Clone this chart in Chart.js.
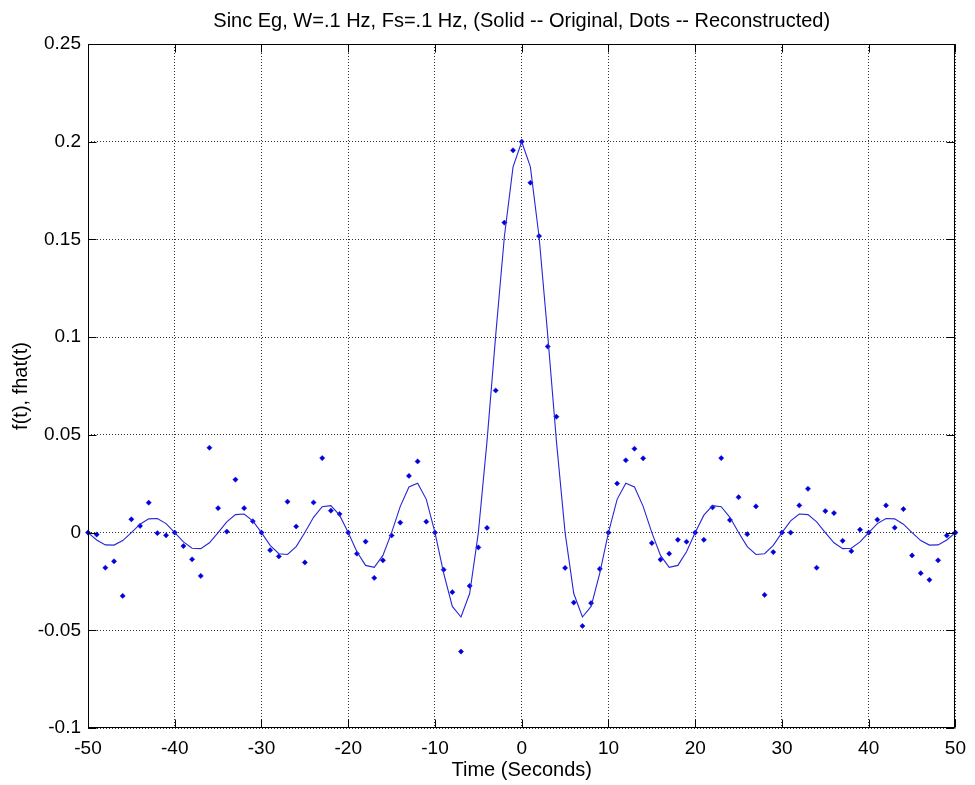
<!DOCTYPE html>
<html>
<head>
<meta charset="utf-8">
<script src="https://cdn.jsdelivr.net/npm/chart.js@4.4.1/dist/chart.umd.min.js"></script>
<style>
  html, body { margin: 0; padding: 0; background: #fff; }
</style>
</head>
<body>
<canvas id="chart" width="975" height="785"></canvas>
<script>
const timeSeconds = [
  -50, -49, -48, -47, -46, -45, -44, -43, -42, -41,
  -40, -39, -38, -37, -36, -35, -34, -33, -32, -31,
  -30, -29, -28, -27, -26, -25, -24, -23, -22, -21,
  -20, -19, -18, -17, -16, -15, -14, -13, -12, -11,
  -10, -9, -8, -7, -6, -5, -4, -3, -2, -1,
  0, 1, 2, 3, 4, 5, 6, 7, 8, 9,
  10, 11, 12, 13, 14, 15, 16, 17, 18, 19,
  20, 21, 22, 23, 24, 25, 26, 27, 28, 29,
  30, 31, 32, 33, 34, 35, 36, 37, 38, 39,
  40, 41, 42, 43, 44, 45, 46, 47, 48, 49, 50
];

// solid line -- original
const originalValues = [
  0, -0.0038, -0.0063, -0.0064, -0.0041, 0, 0.0043, 0.0070, 0.0072, 0.0046,
  0, -0.0048, -0.0080, -0.0082, -0.0052, 0, 0.0055, 0.0092, 0.0095, 0.0060,
  0, -0.0065, -0.0108, -0.0112, -0.0072, 0, 0.0078, 0.0132, 0.0138, 0.0089,
  0, -0.0098, -0.0168, -0.0178, -0.0117, 0, 0.0134, 0.0233, 0.0252, 0.0170,
  0, -0.0208, -0.0378, -0.0432, -0.0312, 0, 0.0468, 0.1009, 0.1514, 0.1871,
  0.2,
  0.1871, 0.1514, 0.1009, 0.0468, 0, -0.0312, -0.0432, -0.0378, -0.0208, 0,
  0.0170, 0.0252, 0.0233, 0.0134, 0, -0.0117, -0.0178, -0.0168, -0.0098, 0,
  0.0089, 0.0138, 0.0132, 0.0078, 0, -0.0072, -0.0112, -0.0108, -0.0065, 0,
  0.0060, 0.0095, 0.0092, 0.0055, 0, -0.0052, -0.0082, -0.0080, -0.0048, 0,
  0.0046, 0.0072, 0.0070, 0.0043, 0, -0.0041, -0.0064, -0.0063, -0.0038, 0
];

// dots -- reconstructed
const reconstructedValues = [
  0, -0.001, -0.018, -0.0147, -0.0324, 0.0068, 0.0034, 0.0153, -0.0003, -0.0014,
  0, -0.0069, -0.0137, -0.0222, 0.0434, 0.0125, 0.0005, 0.0271, 0.0125, 0.0058,
  0, -0.0090, -0.0122, 0.0158, 0.0031, -0.0153, 0.0154, 0.0381, 0.0112, 0.0095,
  0, -0.0108, -0.0046, -0.0232, -0.0142, -0.0015, 0.0051, 0.0290, 0.0364, 0.0056,
  0, -0.0190, -0.0305, -0.0609, -0.0273, -0.0076, 0.0024, 0.0727, 0.1586, 0.1956,
  0.2,
  0.1790, 0.1517, 0.0952, 0.0593, -0.0181, -0.0358, -0.0478, -0.0361, -0.0186, 0,
  0.0251, 0.0370, 0.0429, 0.0380, -0.0054, -0.0138, -0.0108, -0.0037, -0.0047, 0,
  -0.0037, 0.0129, 0.0381, 0.0064, 0.0181, -0.0008, 0.0134, -0.0319, -0.0100, 0,
  0, 0.0139, 0.0224, -0.0180, 0.0110, 0.0100, -0.0042, -0.0095, 0.0015, 0,
  0.0066, 0.0139, 0.0025, 0.0120, -0.0117, -0.0208, -0.0242, -0.0142, -0.0015, 0
];

const xTicks = [-50, -40, -30, -20, -10, 0, 10, 20, 30, 40, 50];
const yTicks = [-0.1, -0.05, 0, 0.05, 0.1, 0.15, 0.2, 0.25];

const titleText = "Sinc Eg, W=.1 Hz, Fs=.1 Hz, (Solid -- Original, Dots -- Reconstructed)";

const FONT = "'Liberation Sans', Arial, sans-serif";

// MATLAB style box with inward ticks on all four sides, title centred over the axes
const matlabFrame = {
  id: "matlabFrame",
  afterDatasetsDraw(chart) {
    const { ctx, chartArea: a, scales } = chart;
    const len = 8;
    const l = Math.round(a.left) + 0.5;
    const r = Math.round(a.right) - 0.5;
    const t = Math.round(a.top) + 0.5;
    const b = Math.round(a.bottom) - 0.5;
    ctx.save();
    ctx.strokeStyle = "#000";
    ctx.lineWidth = 1;
    ctx.beginPath();
    xTicks.forEach((v) => {
      const px = Math.round(scales.x.getPixelForValue(v)) + 0.5;
      ctx.moveTo(px, b);
      ctx.lineTo(px, b - len);
      ctx.moveTo(px, t);
      ctx.lineTo(px, t + len);
    });
    yTicks.forEach((v) => {
      const py = Math.round(scales.y.getPixelForValue(v)) + 0.5;
      ctx.moveTo(l, py);
      ctx.lineTo(l + len, py);
      ctx.moveTo(r, py);
      ctx.lineTo(r - len, py);
    });
    ctx.stroke();
    ctx.strokeRect(l, t, r - l, b - t);

    ctx.fillStyle = "#000";
    ctx.font = "20px " + FONT;
    ctx.textAlign = "center";
    ctx.textBaseline = "middle";
    ctx.fillText(titleText, (a.left + a.right) / 2, a.top - 23);
    ctx.restore();
  },
};

const lineData = timeSeconds.map((x, i) => ({ x: x, y: originalValues[i] }));
const dotData = timeSeconds.map((x, i) => ({ x: x, y: reconstructedValues[i] }));

new Chart(document.getElementById("chart").getContext("2d"), {
  type: "scatter",
  data: {
    datasets: [
      {
        label: "Original",
        data: lineData,
        showLine: true,
        borderColor: "#2626d6",
        borderWidth: 1.1,
        pointRadius: 0,
        tension: 0,
      },
      {
        label: "Reconstructed",
        data: dotData,
        showLine: false,
        pointStyle: "rectRot",
        pointRadius: 2.6,
        backgroundColor: "#0000dd",
        borderColor: "#0000dd",
        borderWidth: 0.5,
        clip: false,
      },
    ],
  },
  options: {
    responsive: false,
    animation: false,
    devicePixelRatio: 1,
    layout: { padding: { left: 0, right: 17, top: 44, bottom: 0 } },
    scales: {
      x: {
        type: "linear",
        min: -50,
        max: 50,
        afterBuildTicks: (scale) => {
          scale.ticks = xTicks.map((v) => ({ value: v }));
        },
        afterFit: (scale) => {
          scale.height = 57;
        },
        border: { display: false, dash: [1, 2] },
        grid: { color: "#333", lineWidth: 1, drawTicks: false },
        ticks: {
          color: "#000",
          padding: 9,
          maxRotation: 0,
          autoSkip: false,
          font: { family: FONT, size: 19 },
          callback: (v) => String(v),
        },
        title: {
          display: true,
          text: "Time (Seconds)",
          color: "#000",
          font: { family: FONT, size: 20 },
          padding: { top: 0, bottom: 3 },
        },
      },
      y: {
        type: "linear",
        min: -0.1,
        max: 0.25,
        afterBuildTicks: (scale) => {
          scale.ticks = yTicks.map((v) => ({ value: v }));
        },
        afterFit: (scale) => {
          scale.width = 88;
        },
        border: { display: false, dash: [1, 2] },
        grid: { color: "#333", lineWidth: 1, drawTicks: false },
        ticks: {
          color: "#000",
          padding: 7,
          autoSkip: false,
          font: { family: FONT, size: 19 },
          callback: (v) => String(v),
        },
        title: {
          display: true,
          text: "f(t), fhat(t)",
          color: "#000",
          font: { family: FONT, size: 20 },
          padding: { top: 9, bottom: 0 },
        },
      },
    },
    plugins: {
      legend: { display: false },
      tooltip: { enabled: false },
      title: { display: false },
    },
  },
  plugins: [matlabFrame],
});
</script>
</body>
</html>
